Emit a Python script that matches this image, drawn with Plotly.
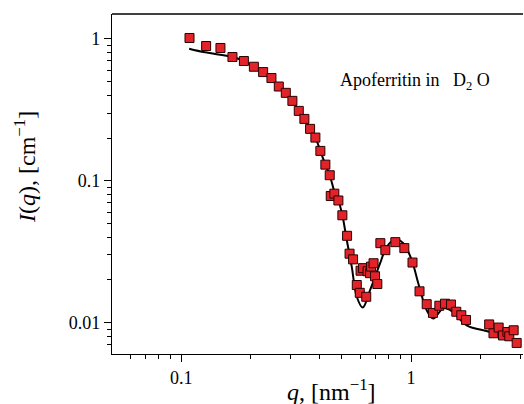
import plotly.graph_objects as go

# Measured data (q in nm^-1, I in cm^-1)
q_data = [0.1087, 0.1284, 0.1482, 0.1671, 0.1874, 0.2071, 0.2273, 0.2470, 0.2659, 0.2852,
          0.3047, 0.3248, 0.3436, 0.3638, 0.3836, 0.4032, 0.4239, 0.4429, 0.4474, 0.4638,
          0.4830, 0.5027, 0.5269, 0.5403, 0.5597, 0.5808, 0.5984, 0.6031, 0.6184, 0.6385,
          0.6469, 0.6634, 0.6700, 0.6870, 0.6973, 0.7135, 0.7355, 0.7731, 0.8546, 0.9352,
          1.015, 1.089, 1.170, 1.246, 1.328, 1.405, 1.493, 1.574, 1.655, 1.735,
          2.188, 2.284, 2.406, 2.512, 2.628, 2.676, 2.796, 2.882]
I_data = [1.016, 0.892, 0.864, 0.746, 0.699, 0.637, 0.584, 0.530, 0.462, 0.417,
          0.366, 0.311, 0.273, 0.2323, 0.2016, 0.1624, 0.1299, 0.1094, 0.0781, 0.0811,
          0.0726, 0.0571, 0.0409, 0.0306, 0.0279, 0.0184, 0.0162, 0.0232, 0.0242, 0.0152,
          0.0230, 0.0223, 0.0248, 0.0262, 0.0212, 0.0187, 0.0363, 0.0324, 0.0369, 0.0335,
          0.0265, 0.0166, 0.01347, 0.01169, 0.01314, 0.01358, 0.01340, 0.01192, 0.01126, 0.01043,
          0.00970, 0.00840, 0.00922, 0.00811, 0.00858, 0.00800, 0.00882, 0.00718]

# Model fit curve
q_fit = [0.1083, 0.1270, 0.1671, 0.1874, 0.2071, 0.2273, 0.2470, 0.2659, 0.2852, 0.3047,
         0.3248, 0.3436, 0.3638, 0.3836, 0.4032, 0.4239, 0.4429, 0.4650, 0.4830, 0.5027,
         0.5253, 0.5524, 0.5808, 0.6166, 0.6634, 0.7333, 0.7840, 0.8518, 0.9258, 1.007,
         1.076, 1.170, 1.250, 1.382, 1.507, 1.747, 2.205, 2.833]
I_fit = [0.854, 0.805, 0.746, 0.699, 0.637, 0.584, 0.530, 0.462, 0.417, 0.366,
         0.311, 0.273, 0.2323, 0.2016, 0.1624, 0.1299, 0.1094, 0.0830, 0.0726, 0.0571,
         0.0382, 0.0247, 0.0152, 0.01276, 0.01692, 0.0261, 0.0342, 0.0386, 0.0362, 0.02756,
         0.01886, 0.01222, 0.01067, 0.01262, 0.01202, 0.00957, 0.00858, 0.00750]

x_major = [0.1, 1]
x_major_text = ["0.1", "1"]
x_minor = [0.06, 0.07, 0.08, 0.09, 0.2, 0.3, 0.4, 0.5, 0.6, 0.7, 0.8, 0.9, 2, 3]
y_major = [0.01, 0.1, 1]
y_major_text = ["0.01", "0.1", "1"]
y_minor = [0.007, 0.008, 0.009, 0.02, 0.03, 0.04, 0.05, 0.06, 0.07, 0.08, 0.09,
           0.2, 0.3, 0.4, 0.5, 0.6, 0.7, 0.8, 0.9]

SERIF = "Liberation Serif, Times New Roman, serif"

fig = go.Figure()
fig.add_trace(go.Scatter(x=q_fit, y=I_fit, mode="lines", line=dict(color="black", width=2, shape="spline"),
                         showlegend=False, hoverinfo="skip"))
fig.add_trace(go.Scatter(x=q_data, y=I_data, mode="markers",
                         marker=dict(symbol="square", size=9, color="#e3232a",
                                     line=dict(color="#2a0000", width=1)),
                         showlegend=False))

axis_common = dict(type="log", showgrid=False, zeroline=False, showline=True, linecolor="black",
                   linewidth=1.3, ticks="outside", ticklen=7, tickwidth=1.2, tickcolor="black",
                   tickfont=dict(family=SERIF, size=18, color="black"), tickmode="array")

fig.update_xaxes(range=[-1.30103, 0.4872], tickvals=x_major, ticktext=x_major_text,
                 minor=dict(tickvals=x_minor, ticklen=3.5, tickwidth=1.2, tickcolor="black", ticks="outside"),
                 **axis_common)
fig.update_yaxes(range=[-2.2218, 0.1761], tickvals=y_major, ticktext=y_major_text,
                 minor=dict(tickvals=y_minor, ticklen=3.5, tickwidth=1.2, tickcolor="black", ticks="outside"),
                 **axis_common)

fig.add_shape(type="line", xref="paper", yref="paper", x0=0, x1=1, y0=1, y1=1,
              line=dict(color="black", width=1.5))

fig.add_annotation(text="Apoferritin in&nbsp;&nbsp;&nbsp;D<sub>2</sub>&nbsp;O", xref="paper", yref="paper",
                   x=0.737, y=0.80, showarrow=False, xanchor="center", yanchor="middle",
                   font=dict(family=SERIF, size=18, color="black"))
fig.add_annotation(text="<i>q</i>, [nm<sup>−1</sup>]", xref="paper", yref="paper",
                   x=0.535, y=-0.106, showarrow=False, xanchor="center", yanchor="middle",
                   font=dict(family=SERIF, size=24, color="black"))
fig.add_annotation(text="<i>I</i>(<i>q</i>), [cm<sup>−1</sup>]", xref="paper", yref="paper",
                   x=-0.2117, y=0.55, showarrow=False, xanchor="center", yanchor="middle",
                   textangle=-90, font=dict(family=SERIF, size=24, color="black"))

fig.update_layout(width=524, height=404, margin=dict(l=112, r=1, t=14, b=50),
                  plot_bgcolor="white", paper_bgcolor="white")

fig.write_html("out.html", config={"displayModeBar": False},
               post_script="document.body.style.margin='0px';")
